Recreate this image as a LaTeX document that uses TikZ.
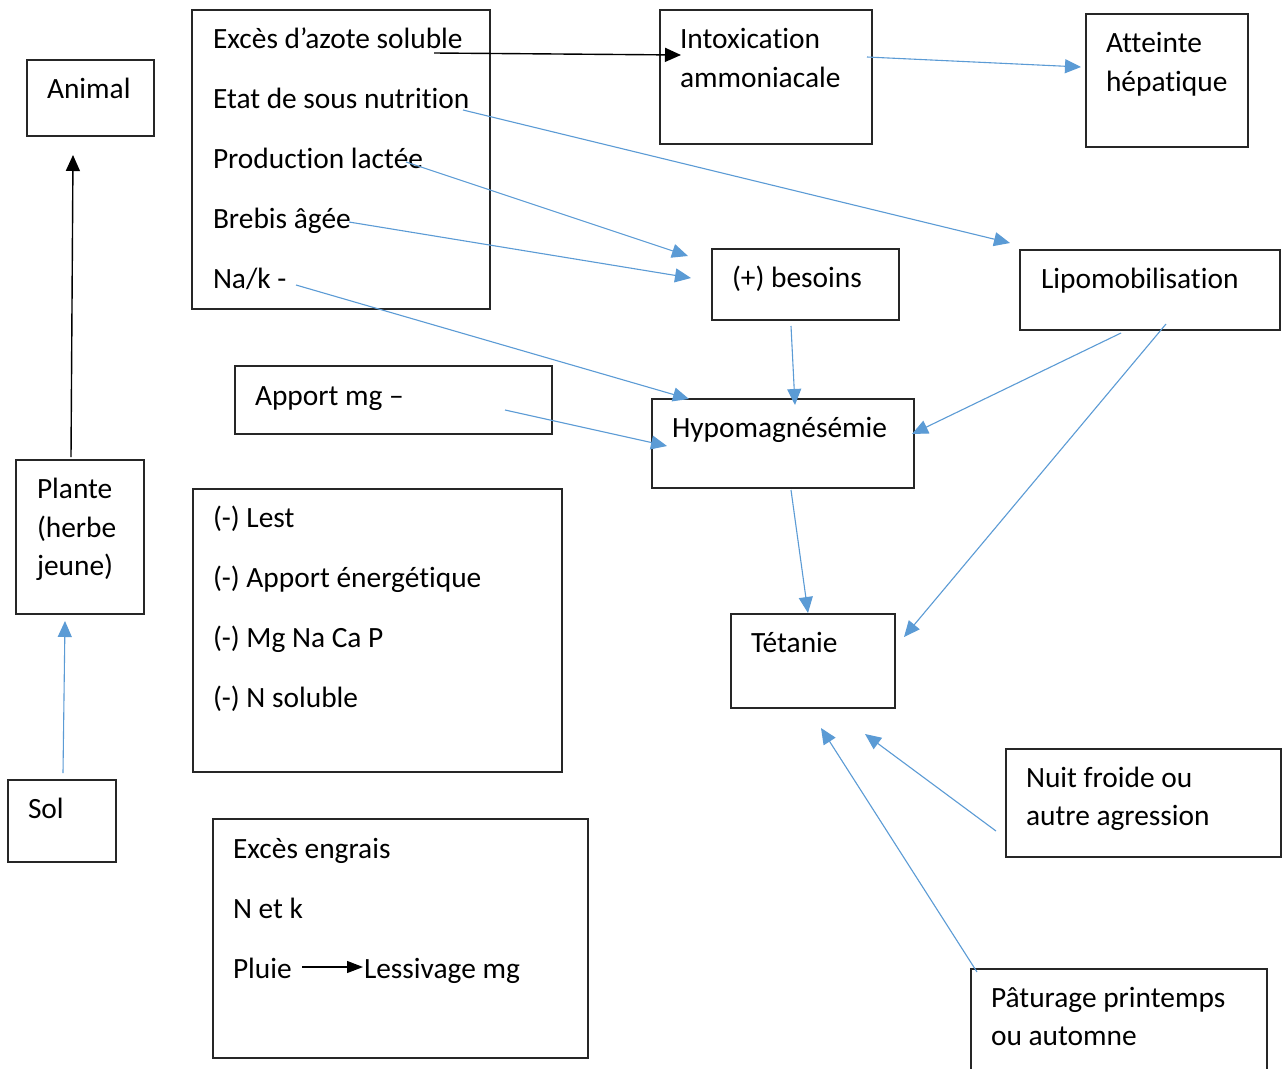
\documentclass[tikz,border=0pt]{standalone}
\usepackage{fontspec}
\setmainfont{Carlito}[Ligatures={NoCommon}]
\usetikzlibrary{arrows.meta}
\definecolor{arrowblue}{HTML}{5B9BD5}
\definecolor{boxline}{HTML}{262626}
\begin{document}
\begin{tikzpicture}[x=1pt,y=-1pt,
  font=\fontsize{29.4}{35}\selectfont,
  box/.style={draw=boxline, line width=1.4pt, rectangle, inner sep=0pt, outer sep=0pt, anchor=north west},
  lbl/.style={anchor=base west, inner sep=0pt, outer sep=0pt, text=black},
  barrow/.style={draw=arrowblue, line width=1.1pt, -{Triangle[length=16pt,width=14pt]}},
  karrow/.style={draw=black, line width=1.4pt, -{Triangle[length=16pt,width=14pt]}},
  ksmall/.style={draw=black, line width=1.1pt, -{Triangle[length=16pt,width=12pt]}}]
\useasboundingbox (0,0) rectangle (1282,1068);
\fill[white] (0,0) rectangle (1282,1068);

% boxes
\node[box, minimum width=127pt, minimum height=76pt]  (animal) at (27,60) {};
\node[box, minimum width=298pt, minimum height=299pt] (causes) at (192,10) {};
\node[box, minimum width=212pt, minimum height=134pt] (intox)  at (660,10) {};
\node[box, minimum width=162pt, minimum height=133pt] (hepat)  at (1086,14) {};
\node[box, minimum width=187pt, minimum height=71pt]  (besoins) at (712,249) {};
\node[box, minimum width=260pt, minimum height=80pt]  (lipo)   at (1020,250) {};
\node[box, minimum width=317pt, minimum height=68pt]  (apport) at (235,366) {};
\node[box, minimum width=262pt, minimum height=89pt]  (hypo)   at (652,399) {};
\node[box, minimum width=128pt, minimum height=154pt] (plante) at (16,460) {};
\node[box, minimum width=369pt, minimum height=283pt] (lest)   at (193,489) {};
\node[box, minimum width=164pt, minimum height=94pt]  (tetanie) at (731,614) {};
\node[box, minimum width=108pt, minimum height=82pt]  (sol)    at (8,780) {};
\node[box, minimum width=375pt, minimum height=239pt] (engrais) at (213,819) {};
\node[box, minimum width=275pt, minimum height=108pt] (nuit)   at (1006,749) {};
\node[box, minimum width=296pt, minimum height=103pt] (pat)    at (971,969) {};

% texts
\node[lbl] (tanimal) at (47,98) {Animal};
\node[lbl] (t1) at (213,48)  {Excès d’azote soluble};
\node[lbl] (t2) at (213,108) {Etat de sous nutrition};
\node[lbl] (t3) at (213,168) {Production lactée};
\node[lbl] (t4) at (213,228) {Brebis âgée};
\node[lbl] (t5) at (213,288) {Na/k -};
\node[lbl] (tintox1) at (680,48) {Intoxication};
\node[lbl] (tintox2) at (680,87) {ammoniacale};
\node[lbl] (thep1) at (1106,52) {Atteinte};
\node[lbl] (thep2) at (1106,91) {hépatique};
\node[lbl] (tbes) at (732,287) {(+) besoins};
\node[lbl] (tlipo) at (1041,288) {Lipomobilisation};
\node[lbl] (tapport) at (255,405) {Apport mg –};
\node[lbl] (thypo) at (672,437) {Hypomagnésémie};
\node[lbl] (tpl1) at (37,498) {Plante};
\node[lbl] (tpl2) at (37,537) {(herbe};
\node[lbl] (tpl3) at (37,575) {jeune)};
\node[lbl] (tl1) at (213,527) {(-) Lest};
\node[lbl] (tl2) at (213,587) {(-) Apport énergétique};
\node[lbl] (tl3) at (213,647) {(-) Mg Na Ca P};
\node[lbl] (tl4) at (213,707) {(-) N soluble};
\node[lbl] (ttet) at (751,652) {Tétanie};
\node[lbl] (tsol) at (28,818) {Sol};
\node[lbl] (te1) at (233,858) {Excès engrais};
\node[lbl] (te2) at (233,918) {N et k};
\node[lbl] (pluie) at (233,978) {Pluie};
\node[lbl] (lessiv) at (364,978) {Lessivage mg};
\node[lbl] (tn1) at (1026,787) {Nuit froide ou};
\node[lbl] (tn2) at (1026,825) {autre agression};
\node[lbl] (tp1) at (991,1007) {Pâturage printemps};
\node[lbl] (tp2) at (991,1045) {ou automne};

% connector end points
\coordinate (a1s) at (434,53);   \coordinate (a1e) at (681,55);
\coordinate (a2s) at (867,57);   \coordinate (a2e) at (1081,67);
\coordinate (a3s) at (463,110);  \coordinate (a3e) at (1010,243);
\coordinate (a4s) at (406,162);  \coordinate (a4e) at (688,256);
\coordinate (a5s) at (349,222);  \coordinate (a5e) at (691,278);
\coordinate (a6s) at (296,285);  \coordinate (a6e) at (689,399);
\coordinate (a7s) at (505,410);  \coordinate (a7e) at (667,446);
\coordinate (a8s) at (791,326);  \coordinate (a8e) at (795,405);
\coordinate (a9s) at (1121,333); \coordinate (a9e) at (912,434);
\coordinate (a10s) at (1166,324); \coordinate (a10e) at (904,637);
\coordinate (a11s) at (791,490); \coordinate (a11e) at (808,613);
\coordinate (a12s) at (996,831); \coordinate (a12e) at (865,734);
\coordinate (a13s) at (977,972); \coordinate (a13e) at (821,728);
\coordinate (a14s) at (63,773);  \coordinate (a14e) at (65,621);
\coordinate (a15s) at (71,457);  \coordinate (a15e) at (73,155);
\coordinate (a16s) at (302,967); \coordinate (a16e) at (363,967);

% connectors
\draw[karrow] (a1s) -- (a1e);
\draw[barrow] (a2s) -- (a2e);
\draw[barrow] (a3s) -- (a3e);
\draw[barrow] (a4s) -- (a4e);
\draw[barrow] (a5s) -- (a5e);
\draw[barrow] (a6s) -- (a6e);
\draw[barrow] (a7s) -- (a7e);
\draw[barrow] (a8s) -- (a8e);
\draw[barrow] (a9s) -- (a9e);
\draw[barrow] (a10s) -- (a10e);
\draw[barrow] (a11s) -- (a11e);
\draw[barrow] (a12s) -- (a12e);
\draw[barrow] (a13s) -- (a13e);
\draw[barrow] (a14s) -- (a14e);
\draw[karrow] (a15s) -- (a15e);
\draw[ksmall] (a16s) -- (a16e);
\end{tikzpicture}
\end{document}
